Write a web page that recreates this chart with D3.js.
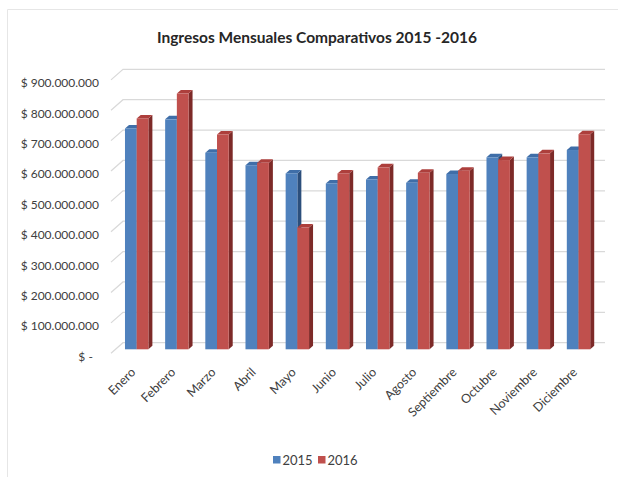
<!DOCTYPE html>
<html>

<head>
    <script src="https://d3js.org/d3.v7.min.js"></script>
    <title>Ingresos Mensuales</title>
    <meta charset="UTF-8">
    <style type="text/css">
        body { margin: 0; background: #fff; }
        text { font-family: Lato, "Open Sans", sans-serif; fill: #404040; }
    </style>
</head>

<body>
    <script type="text/javascript">
        // months and yearly income (pesos)
        var meses = ["Enero", "Febrero", "Marzo", "Abril", "Mayo", "Junio", "Julio",
            "Agosto", "Septiembre", "Octubre", "Noviembre", "Diciembre"];
        var anios = ["2015", "2016"];
        var ingresos2015 = [727e6, 757e6, 647e6, 606e6, 579e6, 546e6, 559e6, 548e6, 577e6, 632e6, 632e6, 656e6];
        var ingresos2016 = [760e6, 842e6, 707e6, 614e6, 401e6, 579e6, 599e6, 581e6, 588e6, 623e6, 645e6, 708e6];
        var yTicks = [0, 100e6, 200e6, 300e6, 400e6, 500e6, 600e6, 700e6, 800e6, 900e6];

        var colores = {
            "2015": { front: "#4f81bd", top: "#3f6ea8", side: "#2c4f7c" },
            "2016": { front: "#c0504d", top: "#ad3f3c", side: "#7d2a28" }
        };

        var width = 618, height = 477;
        // 3d offsets: wall depth, bar position inside depth, bar thickness
        var wallDx = 12, wallDy = -10.6;
        var barDx = 5.6, barDy = -4;
        var depthX = 4, depthY = -3.5;
        var barW = 11.7;

        var svg = d3.select("body").append("svg")
            .attr("width", width)
            .attr("height", height);

        // faint frame of the chart area
        svg.append("path")
            .attr("d", "M7.5,477 L7.5,9.5 L618,9.5")
            .attr("fill", "none")
            .attr("stroke", "#e6e6e6");

        svg.append("text")
            .attr("x", 317)
            .attr("y", 43)
            .attr("text-anchor", "middle")
            .style("font-size", "15.5px")
            .style("font-weight", "bold")
            .style("fill", "#262626")
            .text("Ingresos Mensuales Comparativos 2015 -2016");

        // scales on the front plane
        var x = d3.scaleBand()
            .domain(meses)
            .range([111, 593]);

        var xYear = d3.scaleBand()
            .domain(anios)
            .range([0, barW * 2]);

        var y = d3.scaleLinear()
            .domain([0, 900e6])
            .range([353.3, 79.9]);

        // gridlines: side wall diagonal then back wall
        svg.append("g").attr("class", "grid")
            .selectAll("path")
            .data(yTicks)
            .enter().append("path")
            .attr("d", function (d) {
                var yy = y(d);
                return "M" + x.range()[0] + "," + yy +
                    " L" + (x.range()[0] + wallDx) + "," + (yy + wallDy) +
                    " L" + (x.range()[1] + wallDx) + "," + (yy + wallDy);
            })
            .attr("fill", "none")
            .attr("stroke", "#d9d9d9")
            .attr("stroke-width", 1.2);

        // y axis with accounting style labels
        var loc = d3.formatLocale({ decimal: ",", thousands: ".", grouping: [3], currency: ["$ ", ""] });
        var fmt = loc.format("$,.0f");
        var yAxis = d3.axisLeft(y)
            .tickValues(yTicks)
            .tickSize(0)
            .tickPadding(0)
            .tickFormat(function (d) { return d === 0 ? "$ -  " : fmt(d); });

        svg.append("g")
            .attr("class", "y axis")
            .attr("transform", "translate(99,3)")
            .call(yAxis)
            .call(function (g) { g.select(".domain").remove(); })
            .selectAll("text")
            .style("font-size", "12px")
            .style("font-family", "Lato, sans-serif")
            .attr("fill", "#333")
            .style("white-space", "pre");

        // bars
        var rows = meses.map(function (m, i) {
            return { mes: m, vals: [{ anio: "2015", v: ingresos2015[i] }, { anio: "2016", v: ingresos2016[i] }] };
        });

        var groups = svg.append("g").attr("class", "bars")
            .selectAll("g")
            .data(rows)
            .enter().append("g")
            .attr("transform", function (d) {
                return "translate(" + (x(d.mes) + x.bandwidth() / 2 - barW + barDx) + "," + barDy + ")";
            });

        var bars = groups.selectAll("g")
            .data(function (d) { return d.vals; })
            .enter().append("g");

        bars.append("path")
            .attr("d", function (d) {
                var x0 = xYear(d.anio), x1 = x0 + xYear.bandwidth(), yt = y(d.v), yb = y(0);
                return "M" + x1 + "," + yt + " L" + (x1 + depthX) + "," + (yt + depthY) +
                    " L" + (x1 + depthX) + "," + (yb + depthY) + " L" + x1 + "," + yb + "Z";
            })
            .attr("fill", function (d) { return colores[d.anio].side; });

        bars.append("path")
            .attr("d", function (d) {
                var x0 = xYear(d.anio), x1 = x0 + xYear.bandwidth(), yt = y(d.v);
                return "M" + x0 + "," + yt + " L" + (x0 + depthX) + "," + (yt + depthY) +
                    " L" + (x1 + depthX) + "," + (yt + depthY) + " L" + x1 + "," + yt + "Z";
            })
            .attr("fill", function (d) { return colores[d.anio].top; });

        bars.append("rect")
            .attr("x", function (d) { return xYear(d.anio); })
            .attr("y", function (d) { return y(d.v); })
            .attr("width", xYear.bandwidth())
            .attr("height", function (d) { return y(0) - y(d.v); })
            .attr("fill", function (d) { return colores[d.anio].front; });

        // x axis, rotated month names
        var xAxis = d3.axisBottom(x).tickSize(0).tickPadding(0);
        svg.append("g")
            .attr("class", "x axis")
            .attr("transform", "translate(2,370)")
            .call(xAxis)
            .call(function (g) { g.select(".domain").remove(); })
            .selectAll("text")
            .attr("x", 0)
            .attr("y", 0)
            .attr("dy", "0.35em")
            .attr("text-anchor", "end")
            .attr("transform", "rotate(-45)")
            .style("font-size", "12.5px")
            .style("font-family", "Lato, sans-serif")
            .attr("fill", "#404040");

        // legend
        var legend = svg.append("g").attr("class", "legend")
            .attr("transform", "translate(273,456)");
        var li = legend.selectAll("g")
            .data(anios)
            .enter().append("g")
            .attr("transform", function (d, i) { return "translate(" + (i * 45) + ",0)"; });
        li.append("rect")
            .attr("width", 7.5)
            .attr("height", 7.5)
            .attr("fill", function (d) { return colores[d].front; });
        li.append("text")
            .attr("x", 9.5)
            .attr("y", 8.5)
            .style("font-size", "13px")
            .text(function (d) { return d; });
    </script>
</body>

</html>
